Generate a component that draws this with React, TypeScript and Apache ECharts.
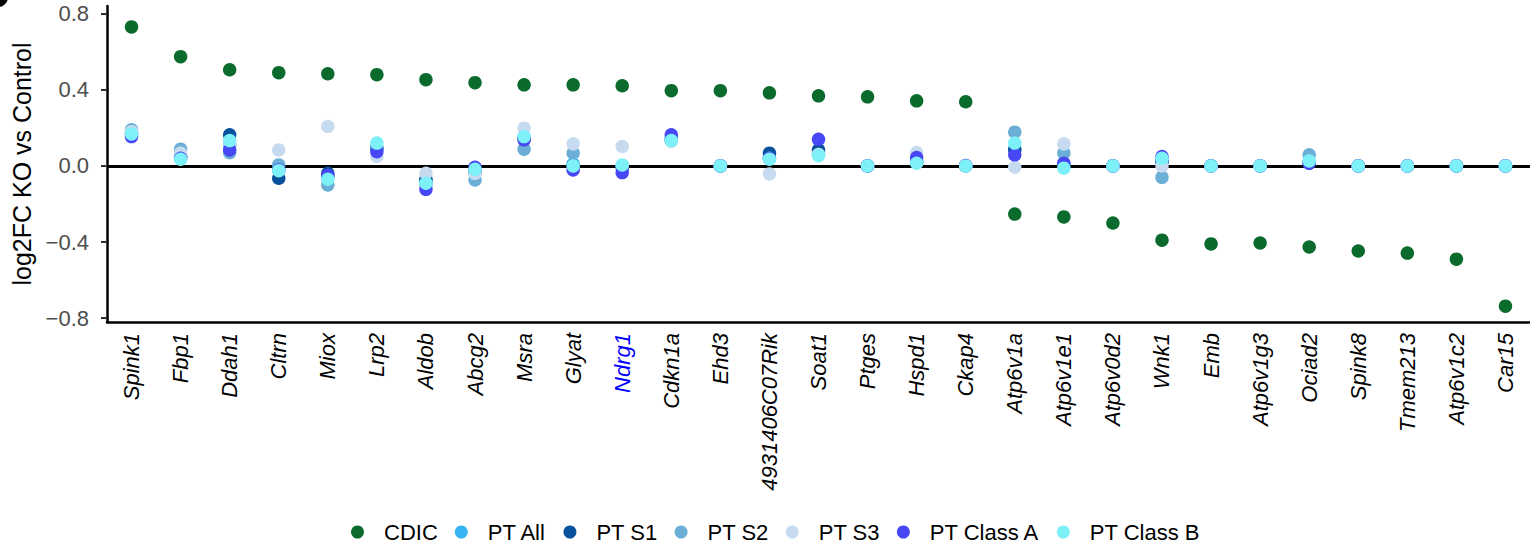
import React, { useEffect, useRef } from "react";
import * as echarts from "echarts";

const genes = [
  "Spink1", "Fbp1", "Ddah1", "Cltrn", "Miox", "Lrp2", "Aldob", "Abcg2", "Msra", "Glyat",
  "Ndrg1", "Cdkn1a", "Ehd3", "4931406C07Rik", "Soat1", "Ptges", "Hspd1", "Ckap4", "Atp6v1a",
  "Atp6v1e1", "Atp6v0d2", "Wnk1", "Emb", "Atp6v1g3", "Ociad2", "Spink8", "Tmem213", "Atp6v1c2", "Car15",
];
const highlightedGene = "Ndrg1";

const cdic = [0.73, 0.574, 0.505, 0.49, 0.484, 0.479, 0.453, 0.437, 0.426, 0.426, 0.421, 0.395, 0.395, 0.384, 0.368, 0.363, 0.342, 0.337, -0.253, -0.268, -0.3, -0.39, -0.41, -0.405, -0.426, -0.447, -0.458, -0.49, -0.737];
const ptAll = [0.165, 0.045, 0.11, -0.02, -0.06, 0.09, -0.08, -0.03, 0.15, 0.01, 0.0, 0.14, 0, 0.04, 0.07, 0, 0.02, 0, 0.09, 0.01, 0, 0.03, 0, 0, 0.02, 0, 0, 0, 0];
const ptS1 = [0.17, 0.05, 0.163, -0.065, -0.039, 0.095, -0.07, -0.035, 0.145, 0.0, -0.01, 0.14, 0, 0.067, 0.084, 0, 0.02, 0, 0.084, 0.0, 0, 0.02, 0, 0, 0.015, 0, 0, 0, 0];
const ptS2 = [0.19, 0.088, 0.07, 0.005, -0.1, 0.09, -0.1, -0.074, 0.088, 0.067, 0.0, 0.135, 0, 0.04, 0.06, 0, 0.02, 0, 0.177, 0.067, 0, -0.06, 0, 0, 0.058, 0, 0, 0, 0];
const ptS3 = [0.18, 0.067, 0.12, 0.084, 0.207, 0.05, -0.039, -0.04, 0.198, 0.116, 0.102, 0.13, 0, -0.042, 0.06, 0, 0.07, 0, -0.007, 0.116, 0, 0.0, 0, 0, 0.02, 0, 0, 0, 0];
const ptClassA = [0.154, 0.04, 0.084, -0.021, -0.05, 0.075, -0.123, -0.007, 0.137, -0.021, -0.035, 0.163, 0, 0.04, 0.14, 0, 0.044, 0.002, 0.058, 0.014, 0, 0.049, 0, 0, 0.014, 0, 0, 0, 0];
const ptClassB = [0.168, 0.035, 0.133, -0.025, -0.07, 0.12, -0.091, -0.018, 0.154, 0.0, 0.005, 0.133, 0, 0.035, 0.054, 0, 0.014, 0, 0.12, -0.012, 0, 0.04, 0, 0, 0.026, 0, 0, 0, 0];

const seriesNames = ["CDIC", "PT All", "PT S1", "PT S2", "PT S3", "PT Class A", "PT Class B"];
const seriesValues = [cdic, ptAll, ptS1, ptS2, ptS3, ptClassA, ptClassB];
const seriesColors = ["#0a6b2c", "#36b4f3", "#08519c", "#6baed6", "#c6dbef", "#4747f5", "#7ef0f7"];

const yTicks = [-0.8, -0.4, 0, 0.4, 0.8];

const FONT = "'Liberation Sans', Arial, Helvetica, sans-serif";

export default function App() {
  const ref = useRef<HTMLDivElement>(null);
  useEffect(() => {
    if (!ref.current) return;
    const chart = echarts.init(ref.current, null, { renderer: "svg" });
    const fmt = (v: number) => v.toFixed(1).replace("-", "\u2212");
    chart.setOption({
      animation: false,
      textStyle: { fontFamily: FONT },
      grid: { left: 107, right: 0, top: 6, bottom: 227, containLabel: false },
      legend: {
        top: 516,
        left: 346,
        icon: "circle",
        itemWidth: 13,
        itemHeight: 13,
        itemGap: 17,
        textStyle: { fontSize: 22, color: "#000", fontFamily: FONT, padding: [0, 0, 0, 15] },
        data: seriesNames,
      },
      xAxis: {
        type: "category",
        data: genes.map((g) =>
          g === highlightedGene ? { value: g, textStyle: { color: "#0000ff" } } : g
        ),
        boundaryGap: true,
        axisLine: { onZero: false, lineStyle: { color: "#000", width: 2.5 } },
        axisTick: { alignWithLabel: true, length: 6, lineStyle: { color: "#333", width: 2 } },
        axisLabel: {
          interval: 0,
          rotate: 90,
          fontStyle: "italic",
          fontSize: 22,
          color: "#000",
          margin: 11,
          fontFamily: FONT,
        },
        splitLine: { show: false },
      },
      yAxis: {
        type: "value",
        min: -0.82,
        max: 0.84,
        name: "log2FC KO vs Control",
        nameLocation: "middle",
        nameGap: 64,
        nameTextStyle: { fontSize: 25, color: "#000", fontFamily: FONT },
        axisLine: { show: true, onZero: false, lineStyle: { color: "#000", width: 2.5 } },
        axisTick: { show: true, length: 6, lineStyle: { color: "#333", width: 2 }, customValues: yTicks },
        axisLabel: {
          fontSize: 22,
          color: "#4d4d4d",
          margin: 18,
          customValues: yTicks,
          formatter: (v: number) => fmt(v),
          fontFamily: FONT,
        },
        splitLine: { show: false },
      },
      graphic: [
        { type: "circle", shape: { cx: -2, cy: -3, r: 10 }, style: { fill: "#000" } },
      ],
      series: seriesNames.map((name, i) => ({
        name,
        type: "scatter",
        data: seriesValues[i],
        symbol: "circle",
        symbolSize: 13.5,
        itemStyle: { color: seriesColors[i], opacity: 1 },
        z: 3 + i,
        markLine:
          i === 0
            ? {
                silent: true,
                symbol: "none",
                label: { show: false },
                lineStyle: { color: "#000", width: 3, type: "solid" },
                data: [{ yAxis: 0 }],
                z: 2,
              }
            : undefined,
      })),
    });
    return () => chart.dispose();
  }, []);
  return (
    <div
      ref={ref}
      style={{ position: "absolute", left: 0, top: 0, width: 1530, height: 549 }}
    />
  );
}
